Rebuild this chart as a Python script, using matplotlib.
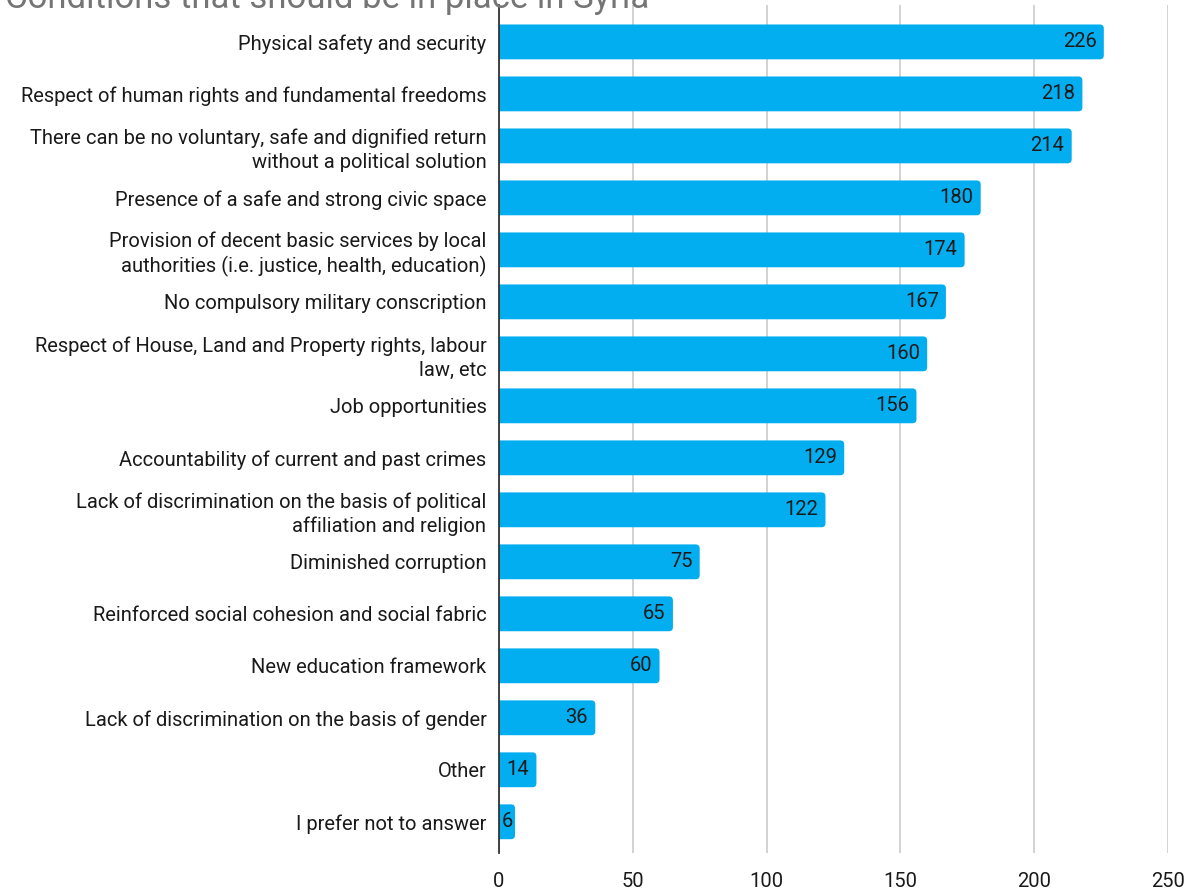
import matplotlib.pyplot as plt
from matplotlib.patches import FancyBboxPatch

labels = [
    "Physical safety and security",
    "Respect of human rights and fundamental freedoms",
    "There can be no voluntary, safe and dignified return\nwithout a political solution",
    "Presence of a safe and strong civic space",
    "Provision of decent basic services by local\nauthorities (i.e. justice, health, education)",
    "No compulsory military conscription",
    "Respect of House, Land and Property rights, labour\nlaw, etc",
    "Job opportunities",
    "Accountability of current and past crimes",
    "Lack of discrimination on the basis of political\naffiliation and religion",
    "Diminished corruption",
    "Reinforced social cohesion and social fabric",
    "New education framework",
    "Lack of discrimination on the basis of gender",
    "Other",
    "I prefer not to answer",
]
values = [226, 218, 214, 180, 174, 167, 160, 156, 129, 122, 75, 65, 60, 36, 14, 6]
xticks = [0, 50, 100, 150, 200, 250]

plt.rcParams['font.family'] = ['Roboto', 'DejaVu Sans']

fig = plt.figure(figsize=(11.98, 8.90), dpi=100)
ax = fig.add_axes([0.4165, 0.0416, 0.5585, 0.9528])

pos = list(range(len(labels)))
bars = ax.barh(pos, values, height=0.67, color='#03AEF0', zorder=3)

# swap plain bars for ones with rounded right end (left end hidden past the axis)
for b in bars:
    x0, y0 = b.get_x(), b.get_y()
    w, h = b.get_width(), b.get_height()
    b.set_visible(False)
    rb = FancyBboxPatch((x0 - 3, y0), w + 3, h,
                        boxstyle="round,pad=0,rounding_size=1.5",
                        mutation_aspect=0.0515, fc='#03AEF0', ec='none',
                        zorder=3)
    ax.add_patch(rb)

for p, v in zip(pos, values):
    if v < 10:
        ax.text(1.0, p, str(v), ha='left', va='center', fontsize=14.5,
                color='#1a1a1a', zorder=6)
    else:
        ax.text(v - 2.7, p, str(v), ha='right', va='center', fontsize=14.5,
                color='#1a1a1a', zorder=6)

ax.set_yticks(pos)
ax.set_yticklabels(labels, fontsize=14.5, color='#1a1a1a', linespacing=1.3)
ax.set_ylim(15.6, -0.71)
ax.set_xlim(0, 250)
ax.set_xticks(xticks)
ax.set_xticklabels([str(t) for t in xticks], fontsize=14.5, color='#1a1a1a')
ax.tick_params(axis='both', length=0)
ax.tick_params(axis='x', pad=14)
ax.tick_params(axis='y', pad=9)

ax.grid(axis='x', color='#cccccc', linewidth=1.2, zorder=0)
for s in ['top', 'right', 'bottom']:
    ax.spines[s].set_visible(False)
ax.spines['left'].set_color('#333333')
ax.spines['left'].set_linewidth(1.3)
ax.spines['left'].set_zorder(5)

fig.text(0.004, 1 - 8 / 890, "Conditions that should be in place in Syria",
         fontsize=25, color='#757575', va='baseline', ha='left')

fig.savefig('out.png', dpi=100)
